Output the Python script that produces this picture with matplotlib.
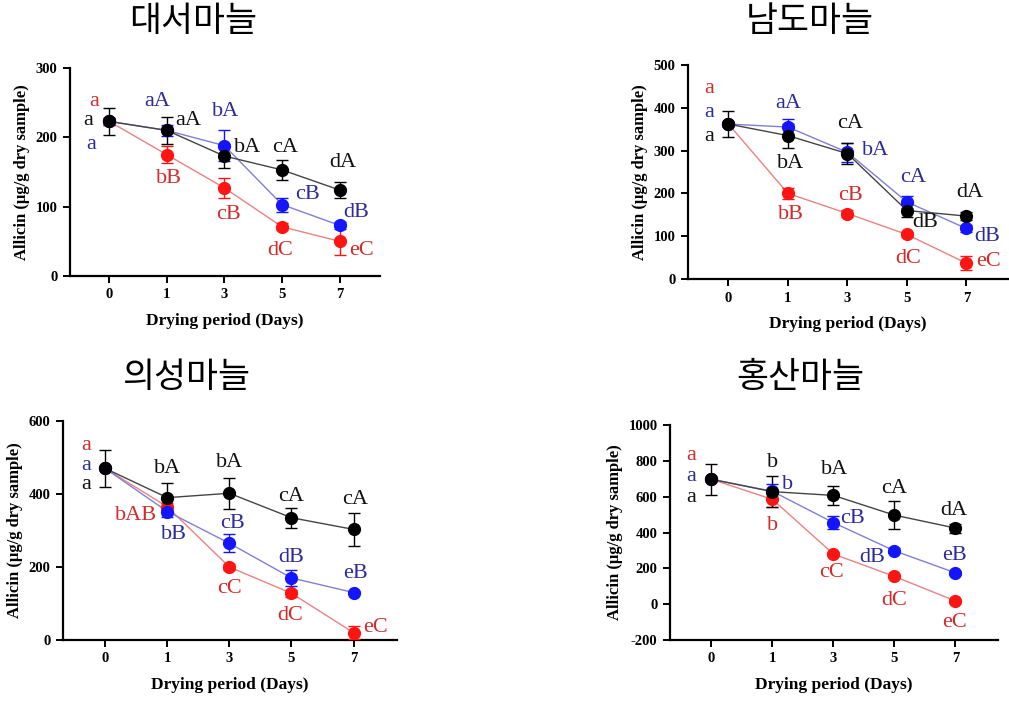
"""Allicin content of four garlic cultivars over the drying period (2x2 panels)."""
import matplotlib
matplotlib.use("Agg")
import matplotlib.pyplot as plt
import numpy as np

plt.rcParams["axes.unicode_minus"] = False

days = ["0", "1", "3", "5", "7"]
titles = ["대서마늘", "남도마늘", "의성마늘", "홍산마늘"]

# means / SD (black, blue, red series)
black_mean = [[223, 210, 173, 153, 124],
              [362, 335, 293, 160, 147],
              [470, 390, 402, 335, 303],
              [697, 628, 607, 497, 425]]
black_err = [[20, 20, 17, 15, 12],
             [30, 28, 25, 15, 10],
             [50, 40, 42, 28, 45],
             [85, 85, 55, 80, 25]]
blue_mean = [[223, 210, 188, 103, 73],
             [362, 355, 296, 180, 118],
             [470, 352, 265, 170, 130],
             [697, 630, 455, 298, 175]]
blue_err = [[5, 8, 22, 10, 5],
            [5, 18, 22, 15, 8],
            [5, 15, 25, 22, 5],
            [10, 40, 35, 15, 10]]
red_mean = [[223, 175, 127, 71, 50],
            [362, 200, 153, 104, 37],
            [470, 365, 200, 128, 20],
            [697, 585, 280, 155, 18]]
red_err = [[5, 12, 14, 5, 20],
           [5, 12, 8, 5, 16],
           [5, 10, 8, 10, 18],
           [10, 40, 10, 10, 10]]

# significance letters
black_lab = [["a", "aA", "bA", "cA", "dA"],
             ["a", "bA", "cA", "dB", "dA"],
             ["a", "bA", "bA", "cA", "cA"],
             ["a", "b", "bA", "cA", "dA"]]
blue_lab = [["a", "aA", "bA", "cB", "dB"],
            ["a", "aA", "bA", "cA", "dB"],
            ["a", "bB", "cB", "dB", "eB"],
            ["a", "b", "cB", "dB", "eB"]]
red_lab = [["a", "bB", "cB", "dC", "eC"],
           ["a", "bB", "cB", "dC", "eC"],
           ["a", "bAB", "cC", "dC", "eC"],
           ["a", "b", "cC", "dC", "eC"]]

# layout: label positions (x index, y data) per panel / series
black_pos = [[(-0.36, 224), (1.38, 224), (2.41, 185), (3.05, 185), (4.05, 163)],
             [(-0.33, 332), (1.05, 271), (2.05, 364), (3.30, 131), (4.05, 203)],
             [(-0.31, 425), (1.00, 471), (2.00, 485), (3.00, 392), (4.03, 384)],
             [(-0.33, 598), (1.00, 793), (2.02, 749), (3.00, 648), (3.98, 525)]]
blue_pos = [[(-0.31, 190), (0.84, 251), (2.02, 237), (3.45, 117), (4.29, 92)],
            [(-0.33, 388), (1.00, 409), (2.47, 301), (3.10, 236), (4.35, 100)],
            [(-0.31, 479), (1.10, 288), (2.05, 320), (3.00, 227), (4.03, 183)],
            [(-0.33, 710), (1.25, 670), (2.31, 480), (2.64, 263), (3.98, 274)]]
red_pos = [[(-0.26, 251), (1.03, 141), (2.07, 88), (2.97, 37), (4.38, 37)],
           [(-0.33, 446), (1.05, 150), (2.05, 196), (3.02, 49), (4.38, 42)],
           [(-0.31, 534), (0.49, 342), (2.00, 142), (2.98, 68), (4.36, 33)],
           [(-0.33, 832), (1.00, 441), (1.97, 179), (3.00, 22), (3.98, -100)]]

ylims = [(0, 300), (0, 500), (0, 600), (-200, 1000)]
ystep = [100, 100, 200, 200]

# axes boxes in pixels: left, right, top, bottom
boxes = [(70, 380, 68, 276), (688, 1008, 65, 279),
         (63, 397, 421, 640), (670, 998, 425, 640)]
title_xy = [(193, 22), (810, 22), (186, 378), (800, 378)]
W, H = 1009, 701

SERIF = ["Liberation Serif", "DejaVu Serif"]
series_style = [  # marker colour, line colour, text colour
    ("#ff1414", "#e98282", "#d42a2a"),
    ("#1414ff", "#7f7fd8", "#2b2b9e"),
    ("#000000", "#444444", "#111111"),
]

fig = plt.figure(figsize=(W / 100, H / 100), dpi=100)
x = np.arange(len(days))

for k in range(4):
    l, r, t, b = boxes[k]
    ax = fig.add_axes([l / W, 1 - b / H, (r - l) / W, (b - t) / H])
    data = [(red_mean[k], red_err[k], red_lab[k], red_pos[k]),
            (blue_mean[k], blue_err[k], blue_lab[k], blue_pos[k]),
            (black_mean[k], black_err[k], black_lab[k], black_pos[k])]
    for (mean, err, labs, pos), (mc, lc, tc) in zip(data, series_style):
        ax.plot(x, mean, color=lc, lw=1.0, zorder=2)
        ax.errorbar(x, mean, yerr=err, fmt="o", ms=8.5, color=mc, ecolor=mc,
                    elinewidth=1.0, capsize=4.5, capthick=1.0, zorder=3)
        for lab, (px, py) in zip(labs, pos):
            ax.text(px, py, lab, color=tc, fontsize=16, family=SERIF,
                    ha="center", va="center", zorder=4)

    lo, hi = ylims[k]
    ax.set_ylim(lo, hi)
    ax.set_xlim(-0.68, 4.7)
    ax.set_yticks(np.arange(lo, hi + 1, ystep[k]))
    ax.set_xticks(x)
    ax.set_xticklabels(days)
    for s in ("top", "right"):
        ax.spines[s].set_visible(False)
    for s in ("left", "bottom"):
        ax.spines[s].set_linewidth(1.6)
    ax.tick_params(width=1.4, length=5, labelsize=10.5, pad=4)
    for lbl in ax.get_xticklabels() + ax.get_yticklabels():
        lbl.set_family(SERIF)
        lbl.set_fontweight("bold")
    ax.set_xlabel("Drying period (Days)", family=SERIF, fontweight="bold",
                  fontsize=12.5, labelpad=8)
    ax.set_ylabel("Allicin (μg/g dry sample)", family=SERIF, fontweight="bold",
                  fontsize=12, labelpad=4)

    tx, ty = title_xy[k]
    fig.text(tx / W, 1 - ty / H, titles[k], ha="center", va="center",
             fontsize=25, family=["Noto Sans CJK KR", "DejaVu Sans"])

fig.savefig("out.png", dpi=100)
